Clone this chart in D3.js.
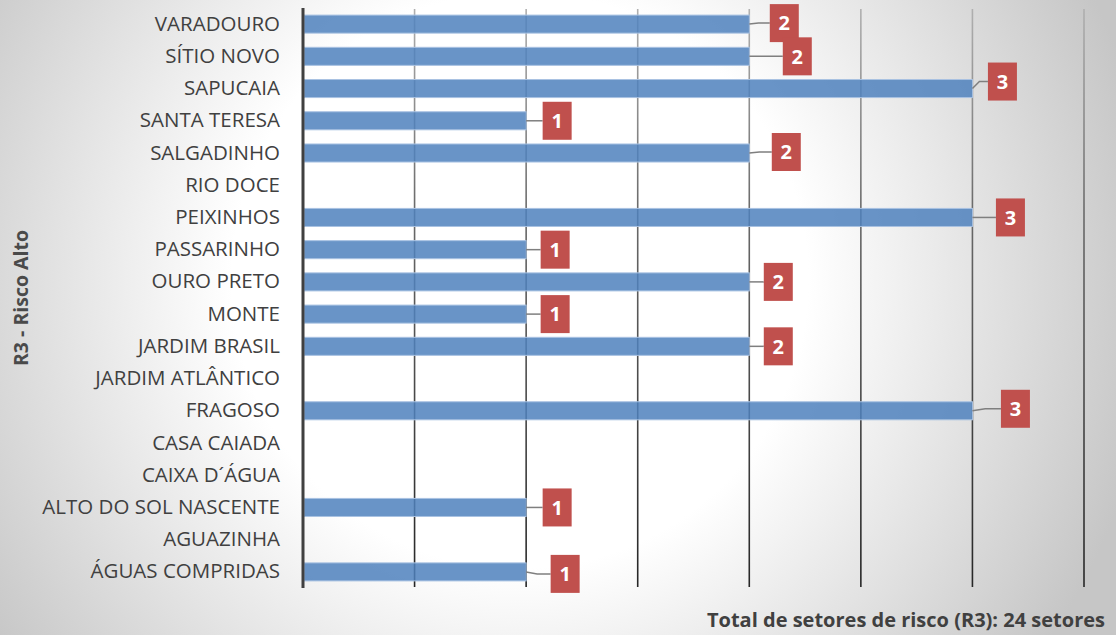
<!DOCTYPE html>
<html>
<head>
<meta charset="utf-8">
<script src="https://cdn.jsdelivr.net/npm/d3@7"></script>
<style>
  body { margin: 0; }
  svg { display: block; font-family: "Open Sans", sans-serif; }
</style>
</head>
<body>
<div class="chart"></div>
<script>
// data
const bairros = ["VARADOURO","SÍTIO NOVO","SAPUCAIA","SANTA TERESA","SALGADINHO","RIO DOCE",
  "PEIXINHOS","PASSARINHO","OURO PRETO","MONTE","JARDIM BRASIL","JARDIM ATLÂNTICO",
  "FRAGOSO","CASA CAIADA","CAIXA D´ÁGUA","ALTO DO SOL NASCENTE","AGUAZINHA","ÁGUAS COMPRIDAS"]
const setores = [2,2,3,1,2,0,3,1,2,1,2,0,3,0,0,1,0,1]
const xTicks = [0,0.5,1,1.5,2,2.5,3,3.5]
const yTitle = "R3 - Risco Alto"
const xTitle = "Total de setores de risco (R3): 24 setores"

// data label nudges (px, relative to bar end) - like excel's dragged labels
const labelNudge = {
  "VARADOURO":[35,-1], "SÍTIO NOVO":[48,0], "SAPUCAIA":[30,-7], "SANTA TERESA":[31,0],
  "SALGADINHO":[37,-1], "PEIXINHOS":[38,0], "PASSARINHO":[29,0], "OURO PRETO":[29,0],
  "MONTE":[29,0], "JARDIM BRASIL":[29,0], "FRAGOSO":[43,-2], "ALTO DO SOL NASCENTE":[31,0],
  "ÁGUAS COMPRIDAS":[39,2]
}

const W = 1116, H = 635
const plotTop = 8, plotBottom = 588, plotLeft = 303, plotRight = 1084

const svg = d3.select(".chart").append("svg")
  .attr("width", W).attr("height", H)

const defs = svg.append("defs")
const bg = defs.append("radialGradient").attr("id","bg")
  .attr("gradientUnits","userSpaceOnUse")
  .attr("cx",520).attr("cy",280).attr("r",640)
bg.append("stop").attr("offset","0%").attr("stop-color","#ffffff")
bg.append("stop").attr("offset","45%").attr("stop-color","#ffffff")
bg.append("stop").attr("offset","100%").attr("stop-color","#c6c6c6")

const gridGrad = defs.append("linearGradient").attr("id","grid")
  .attr("gradientUnits","userSpaceOnUse")
  .attr("x1",0).attr("x2",0).attr("y1",plotTop).attr("y2",plotBottom)
gridGrad.append("stop").attr("offset","0%").attr("stop-color","#b0b0b0")
gridGrad.append("stop").attr("offset","35%").attr("stop-color","#6a6a6a")
gridGrad.append("stop").attr("offset","100%").attr("stop-color","#262626")

svg.append("rect").attr("width",W).attr("height",H).attr("fill","url(#bg)")

const x = d3.scaleLinear().domain([0,3.5]).range([plotLeft,plotRight])
const y = d3.scaleBand().domain(bairros).range([plotTop,plotBottom]).paddingInner(0.44).paddingOuter(0.22)

// gridlines
svg.append("g").selectAll("line")
  .data(xTicks.slice(1))
  .enter().append("line")
  .attr("x1",d=>x(d)).attr("x2",d=>x(d))
  .attr("y1",plotTop+1).attr("y2",plotBottom-1)
  .attr("stroke","url(#grid)")
  .attr("stroke-width",1.6)

// bars
const rows = bairros.map((b,i)=>({name:b, v:setores[i]}))
svg.append("g").selectAll("rect")
  .data(rows.filter(d=>d.v>0))
  .enter().append("rect")
  .attr("x",x(0)+1)
  .attr("y",d=>y(d.name))
  .attr("width",d=>x(d.v)-x(0)-1)
  .attr("height",y.bandwidth())
  .attr("fill","#4f81bd")
  .attr("fill-opacity",0.85)
  .attr("stroke","#a9c2e2")
  .attr("stroke-width",1)

// y axis (categories)
const yAxis = d3.axisLeft(y).tickSize(0).tickPadding(23)
const ga = svg.append("g").attr("transform",`translate(${plotLeft},0)`).call(yAxis)
ga.select(".domain").remove()
ga.selectAll("text")
  .attr("fill","#404040")
  .style("font-size","20.5px")
  .style("font-family","'Open Sans', sans-serif")

svg.append("line")
  .attr("x1",plotLeft).attr("x2",plotLeft)
  .attr("y1",plotTop).attr("y2",plotBottom)
  .attr("stroke","#404040").attr("stroke-width",3)

// data labels
const bw = 29, bh = 38
const labels = svg.append("g").selectAll("g")
  .data(rows.filter(d=>d.v>0))
  .enter().append("g")

labels.each(function(d){
  const g = d3.select(this)
  const nd = labelNudge[d.name] || [30,0]
  const x0 = x(d.v), y0 = y(d.name) + y.bandwidth()/2
  const cx = x0 + nd[0], cy = y0 + nd[1]
  const bl = cx - bw/2
  g.append("path")
    .attr("d",`M${x0},${y0} L${x0+(bl-x0)*0.45},${cy} L${bl},${cy}`)
    .attr("fill","none").attr("stroke","#7f7f7f").attr("stroke-width",1.5)
  g.append("rect")
    .attr("x",bl).attr("y",cy-bh/2)
    .attr("width",bw).attr("height",bh)
    .attr("fill","#c0504d")
  g.append("text")
    .attr("x",cx).attr("y",cy)
    .attr("dy","0.36em")
    .attr("text-anchor","middle")
    .attr("fill","#fff")
    .style("font-size","20px").style("font-weight","bold")
    .text(d.v)
})

// titles
svg.append("text")
  .attr("transform",`translate(28,298) rotate(-90)`)
  .attr("text-anchor","middle")
  .attr("fill","#4a4a4a")
  .style("font-size","19.5px").style("font-weight","bold")
  .text(yTitle)

svg.append("text")
  .attr("x",1105).attr("y",627)
  .attr("text-anchor","end")
  .attr("fill","#404040")
  .style("font-size","20px").style("font-weight","bold")
  .text(xTitle)
</script>
</body>
</html>
